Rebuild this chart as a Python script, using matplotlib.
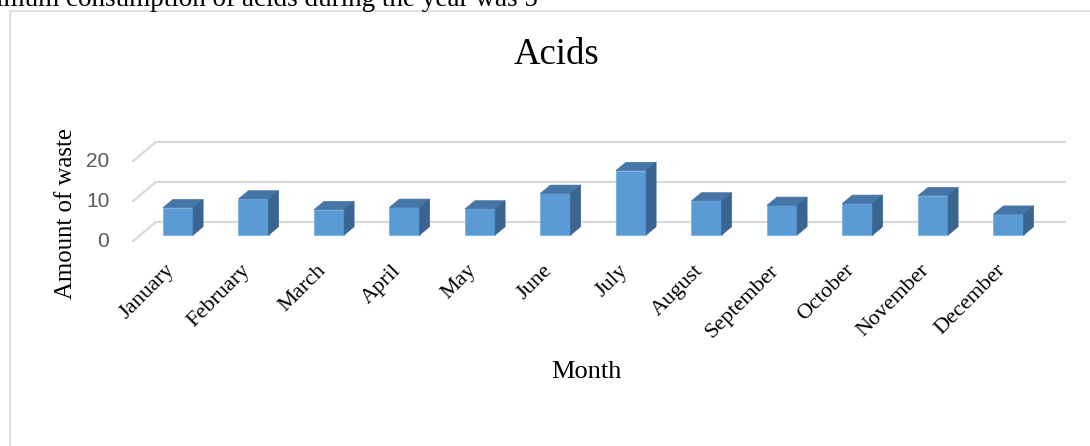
import matplotlib.pyplot as plt
from matplotlib.patches import Polygon, Rectangle

months = ['January', 'February', 'March', 'April', 'May', 'June', 'July',
          'August', 'September', 'October', 'November', 'December']
waste = [6.8, 9.0, 6.3, 6.9, 6.5, 10.4, 16.1, 8.5, 7.4, 7.9, 9.8, 5.2]
yticks = [0, 10, 20]

title = 'Acids'
xlabel = 'Month'
ylabel = 'Amount of waste'
caption = 'imum consumption of acids during the year was 5'

front_col = '#5B9BD5'
top_col = '#4676A8'
side_col = '#3A6591'
grid_col = '#D9D9D9'
serif = ['Liberation Serif', 'DejaVu Serif']

W, H = 1090, 446
fig = plt.figure(figsize=(W / 100, H / 100), dpi=100)

# axes box in pixels (front plane of the bars)
left, right, top, bottom = 100, 1080, 100, 280
ax = fig.add_axes([left / W, 1 - bottom / H, (right - left) / W, (bottom - top) / H])
x0_px, sx = 178, 75.5      # pixel of first category, px per category
y0_px, sy = 235, 4.0       # pixel of value 0, px per unit
ax.set_xlim((left - x0_px) / sx, (right - x0_px) / sx)
ax.set_ylim((y0_px - bottom) / sy, (y0_px - top) / sy)
ax.axis('off')


def off(x, y, dxp, dyp):
    # shift a data point by a pixel offset (dyp positive = up)
    return (x + dxp / sx, y + dyp / sy)


bw = 0.4
bar_d = (10, 8.3)       # bar depth
back_d = (16, 13.3)     # back wall relative to bar fronts
front_d = (-8, -6.7)    # front edge of the floor

xs = list(range(len(months)))
xa, xb = -0.5, len(months) - 0.45

# back wall gridlines and left wall diagonals
for v in yticks:
    p1 = off(xa, v, *back_d)
    p2 = off(xb, v, *back_d)
    ax.plot([p1[0], p2[0]], [p1[1], p2[1]], color=grid_col, lw=1.6, zorder=1,
            solid_capstyle='butt')
    f = off(xa, v, *front_d)
    ax.plot([f[0], p1[0]], [f[1], p1[1]], color=grid_col, lw=1.6, zorder=1,
            solid_capstyle='butt')
    t = off(xa, v, front_d[0] - 23, front_d[1])
    ax.text(t[0], t[1], str(v), ha='right', va='center', fontsize=15,
            color='#595959', family='Liberation Sans')

# 3d columns
ax.bar(xs, waste, width=bw, color=front_col, edgecolor='#7EB1E2', linewidth=0.6,
       zorder=3)
for x, v in zip(xs, waste):
    l, r = x - bw / 2, x + bw / 2
    top_face = [(l, v), (r, v), off(r, v, *bar_d), off(l, v, *bar_d)]
    side_face = [(r, 0), (r, v), off(r, v, *bar_d), off(r, 0, *bar_d)]
    ax.add_patch(Polygon(top_face, closed=True, facecolor=top_col,
                         edgecolor=top_col, lw=0.5, zorder=4))
    ax.add_patch(Polygon(side_face, closed=True, facecolor=side_col,
                         edgecolor=side_col, lw=0.5, zorder=4))

# month labels
for x, m in zip(xs, months):
    p = off(x, 0, -13, -26)
    ax.text(p[0], p[1], m, rotation=45, rotation_mode='anchor', ha='right',
            va='top', fontsize=16, family=serif)

fig.text(556 / W, 1 - 55 / H, title, ha='center', va='center', fontsize=26.5,
         family=serif)
fig.text(586 / W, 1 - 372 / H, xlabel, ha='center', va='center', fontsize=19,
         family=serif)
fig.text(66 / W, 1 - 214 / H, ylabel, ha='center', va='center', rotation=90,
         fontsize=17.8, family=serif)
fig.text(-4 / W, 1 - 6 / H, caption, ha='left', va='baseline', fontsize=19.5,
         family=serif)

# chart frame
fig.patches.append(Rectangle((10 / W, -0.1), 1.2, 1 - 11 / H + 0.1,
                             transform=fig.transFigure, fill=False,
                             edgecolor=grid_col, lw=1.2))

fig.savefig('out.png', dpi=100)
